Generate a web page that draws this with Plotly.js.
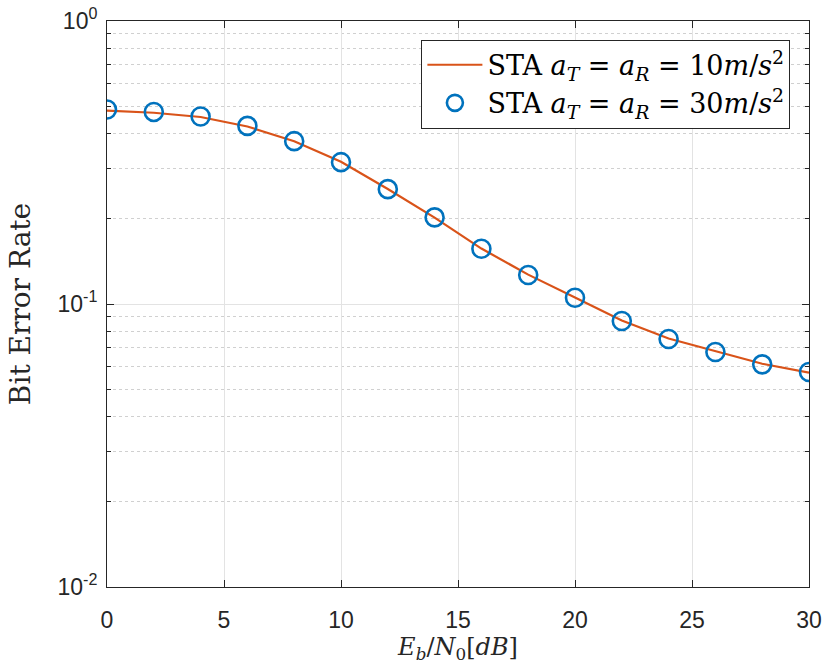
<!DOCTYPE html>
<html>
<head>
<meta charset="utf-8">
<script src="https://cdn.plot.ly/plotly-3.0.1.min.js"></script>
<style>html,body{margin:0;padding:0;background:#fff;}#chart{width:826px;height:669px;}</style>
</head>
<body>
<div id="chart"></div>
<script>
// Eb/N0 in dB
var snrDb = [0, 2, 4, 6, 8, 10, 12, 14, 16, 18, 20, 22, 24, 26, 28, 30];
// STA aT = aR = 10 m/s^2 (line)
var berA10 = [0.482, 0.474, 0.458, 0.424, 0.376, 0.318, 0.255, 0.202, 0.157, 0.127, 0.1055, 0.0875, 0.0755, 0.0680, 0.0615, 0.0572];
// STA aT = aR = 30 m/s^2 (circles)
var berA30 = [0.4866, 0.4772, 0.4598, 0.4260, 0.3762, 0.3171, 0.2546, 0.2023, 0.1567, 0.1266, 0.1052, 0.0871, 0.0752, 0.0677, 0.0612, 0.0575];
var seriesNames = [
  'STA <i>a</i><sub><i>T</i></sub> = <i>a</i><sub><i>R</i></sub> = 10<i>m</i>/<i>s</i><sup>2</sup>',
  'STA <i>a</i><sub><i>T</i></sub> = <i>a</i><sub><i>R</i></sub> = 30<i>m</i>/<i>s</i><sup>2</sup>'
];
var xTicks = [0, 5, 10, 15, 20, 25, 30];
var yTickVals = [0.01, 0.1, 1];
var yTickText = ['10<sup>-2</sup>', '10<sup>-1</sup>', '10<sup>0</sup>'];
var yMinorVals = [0.02, 0.03, 0.04, 0.05, 0.06, 0.07, 0.08, 0.09,
                  0.2, 0.3, 0.4, 0.5, 0.6, 0.7, 0.8, 0.9];

var traces = [
  {x: snrDb, y: berA10, mode: 'lines', name: seriesNames[0], xaxis: 'x', yaxis: 'y',
   line: {color: '#D95319', width: 2.2}},
  {x: snrDb, y: berA30, mode: 'markers', name: seriesNames[1], xaxis: 'x2', yaxis: 'y2',
   marker: {symbol: 'circle-open', size: 18, color: '#0072BD', line: {width: 2.6, color: '#0072BD'}}}
];

var tickFont = {family: 'Liberation Sans, Arial, sans-serif', size: 23, color: '#262626'};

var layout = {
  width: 826, height: 669,
  margin: {l: 107, r: 17, t: 21, b: 82},
  paper_bgcolor: '#ffffff', plot_bgcolor: '#ffffff',
  showlegend: true,
  xaxis: {
    range: [0, 30], tickvals: xTicks, ticktext: xTicks.map(String),
    ticks: 'outside', ticklen: 9, tickcolor: 'rgba(0,0,0,0)', tickfont: tickFont,
    ticklabelstandoff: 3,
    showline: false, showgrid: true, gridcolor: '#e3e3e3', gridwidth: 1, zeroline: false,
    title: {text: '<i>E</i><sub><i>b</i></sub>/<i>N</i><sub>0</sub>[<i>dB</i>]', standoff: 4,
            font: {family: 'DejaVu Serif, serif', size: 24, color: '#262626'}}
  },
  yaxis: {
    type: 'log', range: [-2, 0], tickvals: yTickVals, ticktext: yTickText,
    ticks: 'outside', ticklen: 4, tickcolor: 'rgba(0,0,0,0)', tickfont: tickFont,
    showline: false, showgrid: true, gridcolor: '#e3e3e3', gridwidth: 1, zeroline: false,
    title: {text: 'Bit Error Rate', standoff: 18,
            font: {family: 'DejaVu Serif, serif', size: 28, color: '#262626'}},
    minor: {tickvals: yMinorVals, showgrid: true, gridcolor: '#d0d0d0', griddash: 'dot', gridwidth: 1,
            ticks: ''}
  },
  xaxis2: {
    overlaying: 'x', anchor: 'y2', range: [0, 30], tickvals: xTicks, showticklabels: false,
    showline: true, linecolor: '#262626', linewidth: 1, mirror: 'ticks',
    ticks: 'inside', ticklen: 7, tickcolor: '#262626', tickwidth: 1,
    showgrid: false, zeroline: false
  },
  yaxis2: {
    overlaying: 'y', anchor: 'x2', type: 'log', range: [-2, 0], tickvals: yTickVals, showticklabels: false,
    showline: true, linecolor: '#262626', linewidth: 1, mirror: 'ticks',
    ticks: 'inside', ticklen: 7, tickcolor: '#262626', tickwidth: 1,
    showgrid: false, zeroline: false,
    minor: {tickvals: yMinorVals, showgrid: false, ticks: 'inside', ticklen: 4, tickcolor: '#262626'}
  },
  legend: {
    x: 0.9735, y: 0.967, xanchor: 'right', yanchor: 'top',
    bgcolor: '#ffffff', bordercolor: '#262626', borderwidth: 1,
    font: {family: 'DejaVu Serif, serif', size: 27, color: '#000000'},
    itemwidth: 55, tracegroupgap: 0
  }
};

Plotly.newPlot('chart', traces, layout, {staticPlot: true, displayModeBar: false});
</script>
</body>
</html>
